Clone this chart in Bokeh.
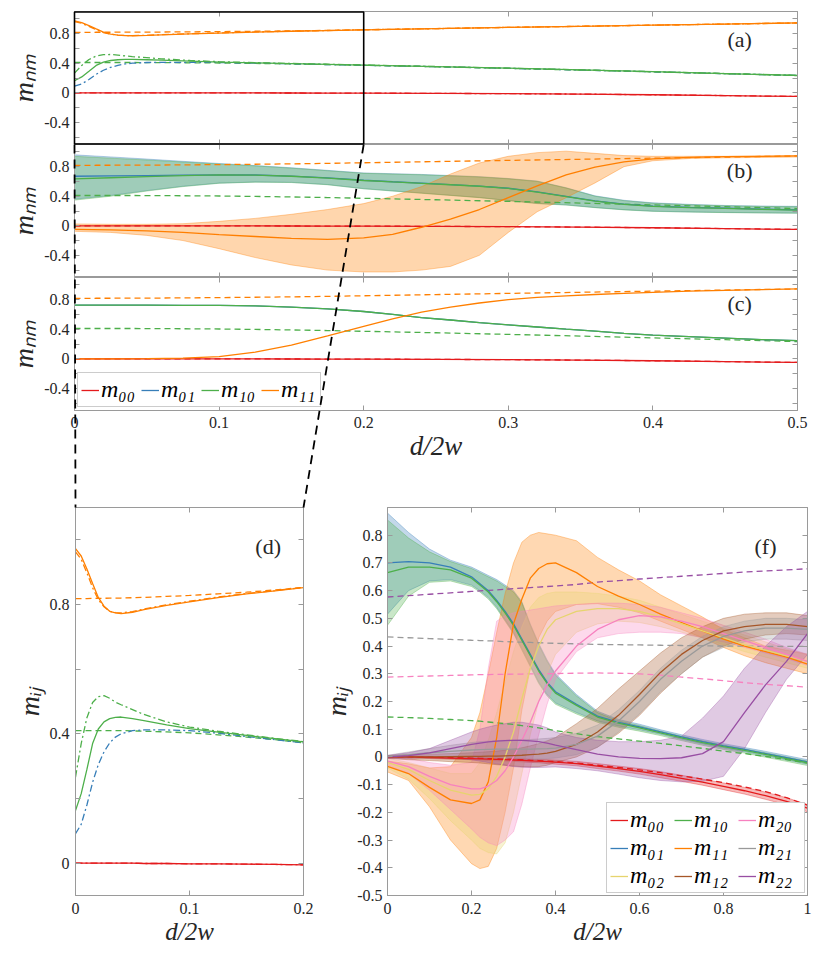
from bokeh.plotting import figure
from bokeh.models import Range1d, LinearAxis, FixedTicker, Legend, LegendItem, Label, GridBox
from bokeh.layouts import column, row
from bokeh.embed import file_html
from bokeh.resources import INLINE

# ---------------- data: panels (a) and (d) ----------------
xa = [0, 0.005, 0.01, 0.015, 0.02, 0.025, 0.03, 0.035, 0.04, 0.05, 0.06, 0.08, 0.1,
      0.125, 0.15, 0.175, 0.2, 0.25, 0.3, 0.35, 0.4, 0.45, 0.5]
a_m11_solid = [0.973, 0.95, 0.91, 0.865, 0.822, 0.795, 0.779, 0.774, 0.772, 0.776, 0.784, 0.797, 0.808,
               0.821, 0.833, 0.842, 0.852, 0.868, 0.885, 0.90, 0.915, 0.93, 0.945]
a_m11_dashdot = [0.963, 0.94, 0.898, 0.852, 0.815, 0.793, 0.779, 0.775, 0.774, 0.778, 0.786, 0.799, 0.81,
                 0.823, 0.834, 0.843, 0.853, 0.868, 0.885, 0.90, 0.915, 0.93, 0.945]
a_m11_ref = [0.818, 0.818, 0.818, 0.819, 0.819, 0.819, 0.82, 0.82, 0.82, 0.821, 0.822, 0.825, 0.828,
             0.833, 0.838, 0.845, 0.853, 0.869, 0.885, 0.90, 0.915, 0.93, 0.945]
a_m10_solid = [0.163, 0.215, 0.29, 0.37, 0.415, 0.437, 0.447, 0.451, 0.452, 0.447, 0.441, 0.428, 0.416,
               0.405, 0.395, 0.385, 0.375, 0.355, 0.333, 0.31, 0.285, 0.26, 0.235]
a_m10_dashdot = [0.266, 0.37, 0.45, 0.497, 0.515, 0.518, 0.51, 0.498, 0.49, 0.475, 0.46, 0.437, 0.421,
                 0.408, 0.397, 0.386, 0.376, 0.355, 0.333, 0.31, 0.285, 0.26, 0.235]
a_m01_dashdot = [0.091, 0.12, 0.18, 0.25, 0.305, 0.344, 0.372, 0.39, 0.40, 0.41, 0.412, 0.412, 0.41,
                 0.402, 0.392, 0.382, 0.372, 0.353, 0.331, 0.308, 0.284, 0.259, 0.234]
a_m10_ref = [0.41, 0.41, 0.41, 0.41, 0.41, 0.41, 0.41, 0.41, 0.41, 0.409, 0.408, 0.406, 0.403,
             0.397, 0.39, 0.382, 0.372, 0.352, 0.33, 0.307, 0.283, 0.258, 0.233]
a_m00 = [0, 0, 0, 0, 0, 0, 0, 0, 0, 0, -0.001, -0.001, -0.002,
         -0.002, -0.003, -0.004, -0.005, -0.008, -0.012, -0.018, -0.027, -0.038, -0.05]

# ---------------- data: panels (b) and (c) ----------------
xb = [0, 0.025, 0.05, 0.075, 0.1, 0.125, 0.15, 0.175, 0.2, 0.22, 0.24, 0.26, 0.28, 0.30,
      0.32, 0.34, 0.36, 0.38, 0.40, 0.425, 0.45, 0.475, 0.5]
b_m10_mid = [0.636, 0.65, 0.665, 0.68, 0.69, 0.685, 0.67, 0.645, 0.613, 0.593, 0.575, 0.555, 0.535, 0.505,
             0.455, 0.395, 0.335, 0.29, 0.262, 0.245, 0.235, 0.222, 0.213]
b_m10_hi = [0.94, 0.915, 0.89, 0.862, 0.836, 0.81, 0.78, 0.745, 0.71, 0.70, 0.69, 0.675, 0.66, 0.635,
            0.60, 0.51, 0.40, 0.34, 0.305, 0.285, 0.27, 0.262, 0.258]
b_m10_lo = [0.347, 0.40, 0.47, 0.53, 0.575, 0.59, 0.585, 0.555, 0.50, 0.47, 0.44, 0.41, 0.38, 0.34,
            0.30, 0.28, 0.245, 0.215, 0.195, 0.185, 0.178, 0.173, 0.169]
b_m01_mid = [0.67, 0.675, 0.68, 0.685, 0.69, 0.687, 0.673, 0.648, 0.616, 0.596, 0.578, 0.558, 0.538, 0.508,
             0.458, 0.398, 0.338, 0.293, 0.265, 0.248, 0.238, 0.225, 0.216]
b_m01_hi = [0.96, 0.932, 0.903, 0.872, 0.843, 0.815, 0.785, 0.75, 0.715, 0.705, 0.695, 0.68, 0.665, 0.64,
            0.605, 0.515, 0.405, 0.345, 0.31, 0.29, 0.275, 0.267, 0.263]
b_m01_lo = [0.36, 0.41, 0.476, 0.535, 0.578, 0.593, 0.588, 0.558, 0.503, 0.473, 0.443, 0.413, 0.383, 0.343,
            0.303, 0.283, 0.248, 0.218, 0.198, 0.188, 0.181, 0.176, 0.172]
b_m11_mid = [-0.05, -0.055, -0.07, -0.09, -0.12, -0.145, -0.17, -0.185, -0.165, -0.115, -0.02, 0.09, 0.22, 0.38,
             0.54, 0.69, 0.795, 0.865, 0.905, 0.925, 0.935, 0.94, 0.945]
b_m11_hi = [0.025, 0.02, 0.02, 0.028, 0.06, 0.10, 0.155, 0.22, 0.30, 0.40, 0.53, 0.70, 0.85, 0.94,
            0.99, 1.01, 0.98, 0.95, 0.94, 0.94, 0.94, 0.945, 0.948]
b_m11_lo = [-0.075, -0.09, -0.13, -0.2, -0.31, -0.43, -0.53, -0.6, -0.625, -0.625, -0.6, -0.55, -0.40, -0.09,
            0.19, 0.38, 0.58, 0.80, 0.88, 0.91, 0.92, 0.925, 0.93]
c_m10 = [0.725, 0.725, 0.725, 0.724, 0.722, 0.715, 0.70, 0.675, 0.64, 0.60, 0.557, 0.525, 0.49, 0.46,
         0.43, 0.40, 0.375, 0.345, 0.32, 0.30, 0.28, 0.26, 0.245]
c_m11 = [0.0, 0.0, 0.003, 0.01, 0.03, 0.09, 0.185, 0.31, 0.44, 0.54, 0.63, 0.70, 0.755, 0.80,
         0.83, 0.85, 0.87, 0.885, 0.90, 0.915, 0.925, 0.935, 0.945]

# ---------------- data: panel (f) ----------------
xf = [0, 0.05, 0.1, 0.15, 0.2, 0.22, 0.24, 0.26, 0.28, 0.30, 0.32, 0.34, 0.36, 0.38, 0.40,
      0.45, 0.5, 0.55, 0.6, 0.65, 0.7, 0.75, 0.8, 0.85, 0.9, 0.95, 1.0]
f_m00_mid = [0, 0, -0.002, -0.004, -0.006, -0.007, -0.008, -0.009, -0.01, -0.011, -0.012, -0.014, -0.015, -0.017,
             -0.019, -0.024, -0.033, -0.042, -0.052, -0.064, -0.077, -0.091, -0.106, -0.122, -0.14, -0.16, -0.185]
f_m00_hi = [0.004, 0.004, 0.002, 0.0, -0.002, -0.003, -0.003, -0.004, -0.005, -0.006, -0.006, -0.008, -0.009, -0.01,
            -0.012, -0.016, -0.024, -0.033, -0.042, -0.053, -0.066, -0.08, -0.094, -0.11, -0.127, -0.147, -0.172]
f_m00_lo = [-0.004, -0.004, -0.006, -0.008, -0.01, -0.011, -0.013, -0.014, -0.015, -0.016, -0.018, -0.02, -0.021, -0.024,
            -0.026, -0.032, -0.042, -0.051, -0.062, -0.075, -0.088, -0.102, -0.118, -0.134, -0.153, -0.173, -0.198]
f_m01_mid = [0.70, 0.705, 0.70, 0.685, 0.65, 0.625, 0.60, 0.565, 0.525, 0.48, 0.425, 0.37, 0.315, 0.27,
             0.235, 0.19, 0.147, 0.125, 0.108, 0.09, 0.072, 0.055, 0.04, 0.027, 0.012, -0.003, -0.018]
f_m01_hi = [0.88, 0.81, 0.75, 0.71, 0.685, 0.67, 0.655, 0.64, 0.62, 0.60, 0.56, 0.48, 0.41, 0.35,
            0.30, 0.225, 0.165, 0.135, 0.118, 0.098, 0.08, 0.063, 0.048, 0.034, 0.02, 0.005, -0.01]
f_m01_lo = [0.515, 0.60, 0.635, 0.64, 0.62, 0.60, 0.575, 0.54, 0.495, 0.45, 0.39, 0.33, 0.27, 0.225,
            0.195, 0.16, 0.13, 0.112, 0.098, 0.082, 0.064, 0.047, 0.032, 0.019, 0.004, -0.011, -0.026]
f_m10_mid = [0.665, 0.685, 0.685, 0.675, 0.645, 0.62, 0.595, 0.56, 0.52, 0.475, 0.42, 0.365, 0.31, 0.265,
             0.23, 0.186, 0.144, 0.122, 0.105, 0.087, 0.069, 0.052, 0.037, 0.024, 0.009, -0.006, -0.021]
f_m10_hi = [0.855, 0.79, 0.74, 0.705, 0.68, 0.665, 0.65, 0.635, 0.615, 0.595, 0.555, 0.475, 0.405, 0.345,
            0.295, 0.22, 0.16, 0.13, 0.113, 0.093, 0.075, 0.058, 0.043, 0.029, 0.015, 0.0, -0.015]
f_m10_lo = [0.475, 0.58, 0.63, 0.635, 0.615, 0.595, 0.57, 0.535, 0.49, 0.445, 0.385, 0.325, 0.265, 0.22,
            0.19, 0.155, 0.125, 0.107, 0.093, 0.077, 0.059, 0.042, 0.027, 0.014, -0.001, -0.016, -0.031]
f_m11_mid = [-0.034, -0.06, -0.11, -0.155, -0.168, -0.155, -0.09, 0.07, 0.30, 0.48, 0.57, 0.645, 0.68, 0.697,
             0.70, 0.665, 0.615, 0.58, 0.55, 0.515, 0.485, 0.455, 0.425, 0.40, 0.38, 0.36, 0.335]
f_m11_hi = [-0.015, -0.025, -0.04, -0.035, 0.07, 0.16, 0.30, 0.45, 0.59, 0.70, 0.775, 0.80, 0.81, 0.805,
            0.80, 0.78, 0.72, 0.675, 0.635, 0.585, 0.545, 0.505, 0.46, 0.43, 0.40, 0.385, 0.37]
f_m11_lo = [-0.054, -0.085, -0.18, -0.30, -0.385, -0.403, -0.395, -0.33, -0.20, -0.04, 0.17, 0.32, 0.43, 0.49,
            0.525, 0.55, 0.553, 0.54, 0.52, 0.49, 0.46, 0.43, 0.395, 0.365, 0.34, 0.32, 0.30]
f_m02_mid = [-0.02, -0.045, -0.085, -0.12, -0.138, -0.135, -0.115, -0.07, 0.0, 0.09, 0.21, 0.32, 0.40, 0.46,
             0.495, 0.525, 0.535, 0.535, 0.525, 0.505, 0.48, 0.455, 0.43, 0.405, 0.385, 0.365, 0.345]
f_m02_hi = [-0.005, -0.02, -0.04, -0.06, -0.06, -0.02, 0.06, 0.16, 0.27, 0.38, 0.47, 0.54, 0.575, 0.59,
            0.595, 0.595, 0.59, 0.58, 0.565, 0.54, 0.515, 0.49, 0.465, 0.44, 0.415, 0.39, 0.37]
f_m02_lo = [-0.04, -0.08, -0.15, -0.23, -0.30, -0.33, -0.345, -0.35, -0.31, -0.20, -0.06, 0.08, 0.20, 0.30,
            0.37, 0.45, 0.48, 0.49, 0.485, 0.47, 0.45, 0.43, 0.405, 0.38, 0.36, 0.34, 0.32]
f_m12_mid = [0.0, 0.0, 0.0, 0.001, 0.002, 0.002, 0.003, 0.003, 0.004, 0.005, 0.006, 0.008, 0.01, 0.014,
             0.02, 0.045, 0.09, 0.15, 0.225, 0.305, 0.37, 0.42, 0.455, 0.47, 0.478, 0.478, 0.47]
f_m12_hi = [0.005, 0.008, 0.01, 0.012, 0.015, 0.017, 0.019, 0.021, 0.024, 0.028, 0.033, 0.04, 0.048, 0.058,
            0.07, 0.12, 0.175, 0.245, 0.31, 0.375, 0.43, 0.47, 0.50, 0.515, 0.52, 0.52, 0.51]
f_m12_lo = [-0.005, -0.01, -0.013, -0.017, -0.02, -0.022, -0.025, -0.028, -0.03, -0.033, -0.035, -0.036, -0.035, -0.03,
            -0.02, 0.0, 0.035, 0.085, 0.15, 0.23, 0.30, 0.36, 0.40, 0.425, 0.44, 0.445, 0.44]
f_m20_mid = [-0.015, -0.035, -0.07, -0.10, -0.115, -0.115, -0.105, -0.085, -0.05, 0.0, 0.06, 0.125, 0.20, 0.26,
             0.31, 0.40, 0.46, 0.495, 0.51, 0.505, 0.49, 0.47, 0.445, 0.42, 0.395, 0.37, 0.345]
f_m20_hi = [0.0, -0.005, -0.02, -0.03, -0.02, 0.10, 0.32, 0.49, 0.51, 0.52, 0.525, 0.53, 0.535, 0.54,
            0.545, 0.55, 0.555, 0.555, 0.55, 0.54, 0.52, 0.50, 0.475, 0.45, 0.425, 0.395, 0.37]
f_m20_lo = [-0.03, -0.06, -0.12, -0.19, -0.26, -0.29, -0.31, -0.32, -0.30, -0.27, -0.17, -0.04, 0.08, 0.19,
            0.28, 0.38, 0.43, 0.445, 0.45, 0.45, 0.445, 0.43, 0.415, 0.395, 0.375, 0.355, 0.33]
f_m21_mid = [0.002, 0.008, 0.015, 0.02, 0.025, 0.026, 0.027, 0.028, 0.028, 0.028, 0.028, 0.028, 0.029, 0.03,
             0.032, 0.045, 0.075, 0.13, 0.20, 0.28, 0.345, 0.40, 0.435, 0.455, 0.465, 0.465, 0.46]
f_m21_hi = [0.006, 0.018, 0.03, 0.042, 0.052, 0.055, 0.057, 0.059, 0.06, 0.061, 0.062, 0.063, 0.065, 0.067,
            0.07, 0.085, 0.115, 0.17, 0.24, 0.32, 0.385, 0.435, 0.47, 0.49, 0.50, 0.50, 0.495]
f_m21_lo = [-0.002, -0.004, -0.005, -0.006, -0.007, -0.008, -0.008, -0.009, -0.01, -0.01, -0.01, -0.01, -0.008, -0.006,
            -0.004, 0.008, 0.035, 0.09, 0.155, 0.235, 0.30, 0.36, 0.395, 0.415, 0.425, 0.425, 0.42]
f_m22_mid = [0.0, 0.005, 0.015, 0.03, 0.045, 0.05, 0.054, 0.057, 0.059, 0.06, 0.06, 0.058, 0.055, 0.05,
             0.043, 0.026, 0.01, 0.0, -0.005, -0.006, -0.003, 0.012, 0.055, 0.16, 0.26, 0.345, 0.445]
f_m22_hi = [0.005, 0.015, 0.03, 0.06, 0.09, 0.10, 0.108, 0.115, 0.12, 0.125, 0.125, 0.12, 0.115, 0.105,
            0.09, 0.07, 0.06, 0.055, 0.055, 0.06, 0.075, 0.14, 0.22, 0.32, 0.40, 0.47, 0.525]
f_m22_lo = [-0.005, -0.004, 0.0, -0.005, -0.01, -0.015, -0.02, -0.025, -0.03, -0.035, -0.037, -0.038, -0.038, -0.037,
            -0.036, -0.042, -0.05, -0.062, -0.075, -0.085, -0.09, -0.088, -0.07, 0.03, 0.16, 0.28, 0.37]
f_m00_ref = [0, 0, -0.001, -0.002, -0.004, -0.005, -0.006, -0.007, -0.008, -0.009, -0.01, -0.012, -0.013, -0.015,
             -0.017, -0.022, -0.03, -0.038, -0.047, -0.057, -0.068, -0.08, -0.093, -0.108, -0.125, -0.147, -0.174]
f_m10_ref = [0.144, 0.142, 0.139, 0.135, 0.131, 0.129, 0.126, 0.123, 0.12, 0.117, 0.113, 0.109, 0.105, 0.10,
             0.095, 0.084, 0.073, 0.065, 0.057, 0.049, 0.04, 0.031, 0.021, 0.012, 0.002, -0.01, -0.022]
f_m20_ref = [0.288, 0.29, 0.292, 0.294, 0.296, 0.297, 0.297, 0.298, 0.298, 0.299, 0.299, 0.30, 0.30, 0.30,
             0.301, 0.302, 0.303, 0.302, 0.30, 0.295, 0.288, 0.282, 0.275, 0.268, 0.262, 0.257, 0.252]
f_m21_ref = [0.433, 0.43, 0.427, 0.424, 0.421, 0.42, 0.419, 0.418, 0.416, 0.415, 0.414, 0.413, 0.412, 0.411,
             0.41, 0.408, 0.406, 0.405, 0.404, 0.403, 0.402, 0.401, 0.40, 0.40, 0.399, 0.399, 0.399]
f_m22_ref = [0.577, 0.582, 0.587, 0.592, 0.597, 0.599, 0.601, 0.603, 0.605, 0.607, 0.609, 0.611, 0.613, 0.615,
             0.617, 0.622, 0.631, 0.636, 0.642, 0.647, 0.652, 0.657, 0.662, 0.667, 0.671, 0.675, 0.679]

# ---------------- ticks / labels ----------------
abc_xticks = [0, 0.1, 0.2, 0.3, 0.4, 0.5]
abc_xlabels = ["0", "0.1", "0.2", "0.3", "0.4", "0.5"]
abc_yticks = [-0.4, 0, 0.4, 0.8]
abc_ylabels = ["-0.4", "0", "0.4", "0.8"]
abc_yminor = [-0.6, -0.2, 0.2, 0.6, 1.0]
d_xticks = [0, 0.1, 0.2]
d_xlabels = ["0", "0.1", "0.2"]
d_yticks = [0, 0.4, 0.8]
d_ylabels = ["0", "0.4", "0.8"]
d_yminor = [0.2, 0.6, 1.0]
f_xticks = [0, 0.2, 0.4, 0.6, 0.8, 1.0]
f_xlabels = ["0", "0.2", "0.4", "0.6", "0.8", "1"]
f_yticks = [-0.5, -0.4, -0.3, -0.2, -0.1, 0, 0.1, 0.2, 0.3, 0.4, 0.5, 0.6, 0.7, 0.8]
f_ylabels = ["-0.5", "-0.4", "-0.3", "-0.2", "-0.1", "0", "0.1", "0.2", "0.3", "0.4", "0.5", "0.6", "0.7", "0.8"]

abc_xrange = (0.0, 0.5)
abc_yrange = (-0.7, 1.1)
d_xrange = (0.0, 0.2)
d_yrange = (-0.1, 1.1)
f_xrange = (0.0, 1.0)
f_yrange = (-0.5, 0.9)

names = {"m00": "m₀₀", "m01": "m₀₁", "m02": "m₀₂", "m10": "m₁₀", "m11": "m₁₁",
         "m12": "m₁₂", "m20": "m₂₀", "m21": "m₂₁", "m22": "m₂₂"}
C = {"m00": "#e41a1c", "m01": "#377eb8", "m10": "#4daf4a", "m11": "#ff7f00", "m02": "#e6d46e",
     "m12": "#a65628", "m20": "#f781bf", "m21": "#999999", "m22": "#984ea3"}

FONT = "Liberation Serif"
AXC = "#9a9a9a"
TXT = "#262626"
DASH = "6 4"
DASHDOT = "7 3 2 3"
LW = 1.3

# ---------------- layout sizes ----------------
OFF = 8
W = 815 + OFF
A_ML, A_MR = 66 + OFF, 26
A_FW = W - A_ML - A_MR
A_FH = 133
A_MT = 3 + OFF
C_MB = 60
D_MT, D_MB = 37, 56
D_ML, D_MR, D_FW = 67 + OFF, 15, 228
F_ML, F_MR, F_FW = 65, 16, 424
DF_FH = 388


def base(width, height, xr, yr, ml, mr, mt, mb):
    p = figure(width=width, height=height, x_range=Range1d(*xr), y_range=Range1d(*yr),
               output_backend="svg", toolbar_location=None,
               x_axis_location=None, y_axis_location=None,
               min_border_left=ml, min_border_right=mr, min_border_top=mt, min_border_bottom=mb)
    p.grid.visible = False
    p.outline_line_color = AXC
    p.background_fill_color = "white"
    p.border_fill_color = "white"
    return p


def add_axes(p, xt, xminor, yt, yminor, xlab=None, ylab=None, xtitle=None, ytitle=None,
             fs="16px", xtfs="25px", ytfs="28px", xstand=7, ystand=5, xtstand=1):
    specs = [("below", xt, xminor, xlab, xtitle, xstand, xtfs, xtstand),
             ("above", xt, xminor, None, None, 0, xtfs, 0),
             ("left", yt, yminor, ylab, ytitle, ystand, ytfs, 2),
             ("right", yt, yminor, None, None, 0, ytfs, 0)]
    for side, ticks, minor, labs, title, stand, tfs, tstand in specs:
        if labs is None:
            # tick marks only: every position drawn as an (unlabelled) minor tick
            ax = LinearAxis(ticker=FixedTicker(ticks=[], minor_ticks=sorted(list(ticks) + list(minor))))
        else:
            ax = LinearAxis(ticker=FixedTicker(ticks=ticks, minor_ticks=minor))
            ax.major_label_overrides = dict(zip(ticks, labs))
            ax.major_label_text_font = FONT
            ax.major_label_text_font_size = fs
            ax.major_label_text_color = TXT
            ax.major_label_standoff = stand
        ax.axis_line_color = AXC
        ax.major_tick_line_color = AXC
        ax.minor_tick_line_color = AXC
        ax.major_tick_in = 5
        ax.major_tick_out = 0
        ax.minor_tick_in = 5
        ax.minor_tick_out = 0
        if title:
            ax.axis_label = title
            ax.axis_label_text_font = FONT
            ax.axis_label_text_font_style = "italic"
            ax.axis_label_text_font_size = tfs
            ax.axis_label_text_color = TXT
            ax.axis_label_standoff = tstand
        p.add_layout(ax, side)


def tag(p, x, y, text):
    p.add_layout(Label(x=x, y=y, text=text, text_font=FONT, text_font_size="22px",
                       text_color=TXT, text_align="center", text_baseline="middle"))


def band(p, x, lo, hi, color, alpha=0.3):
    p.varea(x=x, y1=lo, y2=hi, fill_color=color, fill_alpha=alpha)
    p.line(x, lo, line_color=color, line_alpha=0.45, line_width=0.8)
    p.line(x, hi, line_color=color, line_alpha=0.45, line_width=0.8)


def style_legend(lg, size, gw, margin, spacing, lw):
    lg.label_text_font = FONT
    lg.label_text_font_style = "italic"
    lg.label_text_font_size = size
    lg.label_text_color = "black"
    lg.border_line_color = AXC
    lg.background_fill_alpha = 1.0
    lg.glyph_width = gw
    lg.glyph_height = 18
    lg.label_standoff = 2
    lg.label_width = lw
    lg.spacing = spacing
    lg.padding = 3
    lg.margin = margin


def draw_a_lines(p):
    p.line(xa, a_m00, line_color=C["m00"], line_width=LW)
    p.line(xa, a_m00, line_color=C["m00"], line_width=LW, line_dash=DASHDOT)
    p.line(xa, a_m11_ref, line_color=C["m11"], line_width=LW, line_dash=DASH)
    p.line(xa, a_m11_dashdot, line_color=C["m11"], line_width=LW, line_dash=DASHDOT)
    p.line(xa, a_m11_solid, line_color=C["m11"], line_width=LW)
    p.line(xa, a_m10_ref, line_color=C["m10"], line_width=LW, line_dash=DASH)
    p.line(xa, a_m01_dashdot, line_color=C["m01"], line_width=LW, line_dash=DASHDOT)
    p.line(xa, a_m10_dashdot, line_color=C["m10"], line_width=LW, line_dash=DASHDOT)
    p.line(xa, a_m10_solid, line_color=C["m10"], line_width=LW)


# ---------------- panel (a) ----------------
pa = base(W, A_MT + A_FH, abc_xrange, abc_yrange, A_ML, A_MR, A_MT, 0)
add_axes(pa, abc_xticks, [], abc_yticks, abc_yminor, ylab=abc_ylabels, ytitle="mₙₘ")
draw_a_lines(pa)
tag(pa, 0.46, 0.72, "(a)")

# ---------------- panel (b) ----------------
pb = base(W, A_FH, abc_xrange, abc_yrange, A_ML, A_MR, 0, 0)
add_axes(pb, abc_xticks, [], abc_yticks, abc_yminor, ylab=abc_ylabels, ytitle="mₙₘ")
band(pb, xb, b_m01_lo, b_m01_hi, C["m01"])
band(pb, xb, b_m10_lo, b_m10_hi, C["m10"])
band(pb, xb, b_m11_lo, b_m11_hi, C["m11"], alpha=0.32)
pb.line(xa, a_m11_ref, line_color=C["m11"], line_width=LW, line_dash=DASH)
pb.line(xa, a_m10_ref, line_color=C["m10"], line_width=LW, line_dash=DASH)
pb.line(xa, a_m00, line_color=C["m00"], line_width=LW)
pb.line(xa, a_m00, line_color=C["m00"], line_width=LW, line_dash=DASH)
pb.line(xb, b_m01_mid, line_color=C["m01"], line_width=LW)
pb.line(xb, b_m10_mid, line_color=C["m10"], line_width=LW)
pb.line(xb, b_m11_mid, line_color=C["m11"], line_width=LW)
tag(pb, 0.46, 0.75, "(b)")

# ---------------- panel (c) ----------------
pc = base(W, A_FH + C_MB, abc_xrange, abc_yrange, A_ML, A_MR, 0, C_MB)
add_axes(pc, abc_xticks, [], abc_yticks, abc_yminor, xlab=abc_xlabels, ylab=abc_ylabels,
         xtitle="d/2w", ytitle="mₙₘ", xtfs="27px", xstand=6, xtstand=0)
pc.line(xa, a_m11_ref, line_color=C["m11"], line_width=LW, line_dash=DASH)
pc.line(xa, a_m10_ref, line_color=C["m10"], line_width=LW, line_dash=DASH)
pc.line(xa, a_m00, line_color=C["m00"], line_width=LW, line_dash=DASH)
rc00 = pc.line(xa, a_m00, line_color=C["m00"], line_width=LW)
rc01 = pc.line(xb, c_m10, line_color=C["m01"], line_width=LW)
rc10 = pc.line(xb, c_m10, line_color=C["m10"], line_width=LW)
rc11 = pc.line(xb, c_m11, line_color=C["m11"], line_width=LW)
leg_c = Legend(items=[LegendItem(label=names["m00"], renderers=[rc00]),
                      LegendItem(label=names["m01"], renderers=[rc01]),
                      LegendItem(label=names["m10"], renderers=[rc10]),
                      LegendItem(label=names["m11"], renderers=[rc11])],
               location="bottom_left", orientation="horizontal")
style_legend(leg_c, "24px", 18, 3, 4, 36)
pc.add_layout(leg_c)
tag(pc, 0.46, 0.745, "(c)")

# ---------------- panel (d) ----------------
pd = base(D_ML + D_FW + D_MR, D_MT + DF_FH + D_MB, d_xrange, d_yrange, D_ML, D_MR, D_MT, D_MB)
add_axes(pd, d_xticks, [], d_yticks, d_yminor, xlab=d_xlabels, ylab=d_ylabels,
         xtitle="d/2w", ytitle="mᵢⱼ", xstand=7, ystand=6)
draw_a_lines(pd)
tag(pd, 0.169, 0.98, "(d)")

# ---------------- panel (f) ----------------
pf = base(F_ML + F_FW + F_MR, D_MT + DF_FH + D_MB, f_xrange, f_yrange, F_ML, F_MR, D_MT, D_MB)
add_axes(pf, f_xticks, [], f_yticks, [], xlab=f_xlabels, ylab=f_ylabels,
         xtitle="d/2w", ytitle="mᵢⱼ", xstand=7, ystand=5)
bands_f = {"m00": (f_m00_lo, f_m00_mid, f_m00_hi), "m01": (f_m01_lo, f_m01_mid, f_m01_hi),
           "m10": (f_m10_lo, f_m10_mid, f_m10_hi), "m11": (f_m11_lo, f_m11_mid, f_m11_hi),
           "m02": (f_m02_lo, f_m02_mid, f_m02_hi), "m12": (f_m12_lo, f_m12_mid, f_m12_hi),
           "m20": (f_m20_lo, f_m20_mid, f_m20_hi), "m21": (f_m21_lo, f_m21_mid, f_m21_hi),
           "m22": (f_m22_lo, f_m22_mid, f_m22_hi)}
draw_order = ["m00", "m01", "m10", "m11", "m02", "m20", "m12", "m21", "m22"]
for k in draw_order:
    lo, mid, hi = bands_f[k]
    band(pf, xf, lo, hi, C[k])
for k, ref in [("m00", f_m00_ref), ("m10", f_m10_ref), ("m20", f_m20_ref),
               ("m21", f_m21_ref), ("m22", f_m22_ref)]:
    pf.line(xf, ref, line_color=C[k], line_width=LW, line_dash=DASH)
rend_f = {}
for k in draw_order:
    lo, mid, hi = bands_f[k]
    rend_f[k] = pf.line(xf, mid, line_color=C[k], line_width=LW)
leg_order = ["m00", "m10", "m20", "m01", "m11", "m21", "m02", "m12", "m22"]
leg_f = Legend(items=[LegendItem(label=names[k], renderers=[rend_f[k]]) for k in leg_order],
               location="bottom_right", orientation="horizontal", ncols=3)
style_legend(leg_f, "24px", 18, 2, 1, 43)
pf.add_layout(leg_f)
tag(pf, 0.90, 0.76, "(f)")

# ---------------- overlay: zoom box and connectors ----------------
H_A = A_MT + A_FH
H_B = A_FH
H_C = A_FH + C_MB
H_DF = D_MT + DF_FH + D_MB
TOT_H = H_A + H_B + H_C + H_DF

ov = figure(width=W, height=TOT_H, x_range=Range1d(0, W), y_range=Range1d(TOT_H, 0),
            output_backend="svg", toolbar_location=None,
            x_axis_location=None, y_axis_location=None, min_border=0)
ov.grid.visible = False
ov.outline_line_color = None
ov.background_fill_color = None
ov.border_fill_color = None


def a_px(x):
    return A_ML + (x - abc_xrange[0]) / (abc_xrange[1] - abc_xrange[0]) * A_FW


box_l, box_r = a_px(d_xrange[0]), a_px(d_xrange[1])
box_t, box_b = A_MT, A_MT + A_FH
d_top = H_A + H_B + H_C + D_MT
d_l, d_r = D_ML, D_ML + D_FW
ov.quad(left=[box_l], right=[box_r], top=[box_t + 0.5], bottom=[box_b - 0.5],
        fill_color=None, line_color="black", line_width=1.6)
ov.segment(x0=[box_l, box_r], y0=[box_b, box_b], x1=[d_l, d_r], y1=[d_top, d_top],
           line_color="black", line_width=1.8, line_dash="9 6")

main = column(pa, pb, pc, row(pd, pf))
layout = GridBox(children=[(main, 0, 0), (ov, 0, 0)])

open("out.html", "w").write(file_html(layout, INLINE))
